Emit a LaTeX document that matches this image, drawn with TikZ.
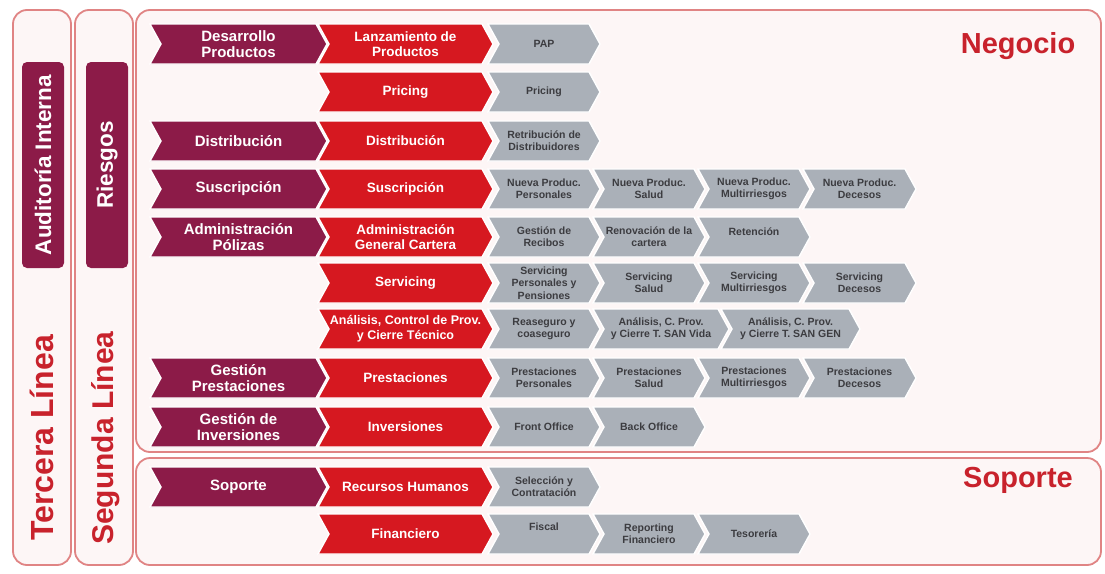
\documentclass[tikz,border=0pt]{standalone}
\usepackage{fontspec}
\setmainfont{Liberation Sans}
\definecolor{mymaroon}{RGB}{140,27,72}
\definecolor{myred}{RGB}{214,24,32}
\definecolor{mygray}{RGB}{170,176,184}
\definecolor{txtgray}{RGB}{60,60,64}
\definecolor{panelline}{RGB}{224,132,132}
\definecolor{panelfill}{RGB}{253,246,246}
\definecolor{titlered}{RGB}{200,34,44}
\tikzset{
  chev/.style={draw=white, line width=1.4pt, line join=miter},
  mar/.style={chev, fill=mymaroon},
  rd/.style={chev, fill=myred},
  gr/.style={chev, fill=mygray},
  martext/.style={text=white, font=\fontsize{15}{16.5}\selectfont\bfseries, align=center, inner sep=0pt},
  rdtext/.style={text=white, font=\fontsize{13.5}{15.5}\selectfont\bfseries, align=center, inner sep=0pt},
  rdsmall/.style={text=white, font=\fontsize{12.5}{15}\selectfont\bfseries, align=center, inner sep=0pt},
  grtext/.style={text=txtgray, font=\fontsize{10.5}{12.3}\selectfont\bfseries, align=center, inner sep=0pt},
  panel/.style={draw=panelline, line width=1.8pt, fill=panelfill, rounded corners=14pt},
  colbox/.style={fill=mymaroon, rounded corners=5pt, text=white, font=\fontsize{22.5}{24}\selectfont\bfseries, minimum width=206pt, minimum height=42pt, inner sep=0pt, rotate=90},
  coltext/.style={text=titlered, font=\fontsize{30}{32}\selectfont\bfseries, inner sep=0pt, rotate=90},
  sectitle/.style={text=titlered, font=\fontsize{29}{30}\selectfont\bfseries, inner sep=0pt}
}
% name, x1, x2, yc, shape style, text style, text
\newcommand\chevbox[7]{%
  \path[#5] (#2,#4-20) -- (#3-11,#4-20) -- (#3,#4) -- (#3-11,#4+20) -- (#2,#4+20) -- (#2+11,#4) -- cycle;
  \node[#6] (#1) at ({(#2+#3)/2}, #4) {#7};
}
\begin{document}
\begin{tikzpicture}[x=1pt, y=-1pt]
\useasboundingbox (0,0) rectangle (1105,573);
\fill[white] (0,0) rectangle (1105,573);
% panels
\draw[panel] (13,10) rectangle (71,565);
\draw[panel] (75,10) rectangle (133,565);
\draw[panel] (136,10) rectangle (1101,452);
\draw[panel] (136,458) rectangle (1101,565);
% column labels
\node[colbox] (auditoria) at (43,165) {Auditoría Interna};
\node[colbox] (riesgos) at (107,165) {Riesgos};
\node[coltext, font=\fontsize{32}{34}\selectfont\bfseries] (tercera) at (42,438) {Tercera Línea};
\node[coltext] (segunda) at (106,438) {Segunda Línea};
\node[sectitle] (negocio) at (1018,46) {Negocio};
\node[sectitle] (soporteT) at (1018,480) {Soporte};
% Row 1
\chevbox{m1}{150}{327}{44}{mar}{martext}{Desarrollo\\Productos}
\chevbox{r1}{318}{493}{44}{rd}{rdtext}{Lanzamiento de\\Productos}
\chevbox{g1a}{488}{600}{44}{gr}{grtext}{PAP}
% Row 2
\chevbox{r2}{318}{493}{92}{rd}{rdtext}{Pricing}
\chevbox{g2a}{488}{600}{92}{gr}{grtext}{Pricing}
% Row 3
\chevbox{m3}{150}{327}{141}{mar}{martext}{Distribución}
\chevbox{r3}{318}{493}{141}{rd}{rdtext}{Distribución}
\chevbox{g3a}{488}{600}{141}{gr}{grtext}{Retribución de\\Distribuidores}
% Row 4
\chevbox{m4}{150}{327}{189}{mar}{martext}{Suscripción}
\chevbox{r4}{318}{493}{189}{rd}{rdtext}{Suscripción}
\chevbox{g4a}{488}{600}{189}{gr}{grtext}{Nueva Produc.\\Personales}
\chevbox{g4b}{593}{705}{189}{gr}{grtext}{Nueva Produc.\\Salud}
\chevbox{g4c}{698}{810}{189}{gr}{grtext}{Nueva Produc.\\Multirriesgos}
\chevbox{g4d}{803}{916}{189}{gr}{grtext}{Nueva Produc.\\Decesos}
% Row 5
\chevbox{m5}{150}{327}{237}{mar}{martext}{Administración\\Pólizas}
\chevbox{r5}{318}{493}{237}{rd}{rdtext}{Administración\\General Cartera}
\chevbox{g5a}{488}{600}{237}{gr}{grtext}{Gestión de\\Recibos}
\chevbox{g5b}{593}{705}{237}{gr}{grtext}{Renovación de la\\cartera}
\path[gr] (698,217) -- (799,217) -- (810,237) -- (799,257) -- (698,257) -- (709,237) -- cycle;
\node[grtext] (g5c) at (754,232) {Retención};
% Row 6
\chevbox{r6}{318}{493}{283}{rd}{rdtext}{Servicing}
\chevbox{g6a}{488}{600}{283}{gr}{grtext}{Servicing\\Personales y\\Pensiones}
\chevbox{g6b}{593}{705}{283}{gr}{grtext}{Servicing\\Salud}
\chevbox{g6c}{698}{810}{283}{gr}{grtext}{Servicing\\Multirriesgos}
\chevbox{g6d}{803}{916}{283}{gr}{grtext}{Servicing\\Decesos}
% Row 7
\chevbox{r7}{318}{493}{329}{rd}{rdsmall}{Análisis, Control de Prov.\\y Cierre Técnico}
\chevbox{g7a}{488}{600}{329}{gr}{grtext}{Reaseguro y\\coaseguro}
\chevbox{g7b}{593}{729}{329}{gr}{grtext}{Análisis, C. Prov.\\y Cierre T. SAN Vida}
\chevbox{g7c}{721}{860}{329}{gr}{grtext}{Análisis, C. Prov.\\y Cierre T. SAN GEN}
% Row 8
\chevbox{m8}{150}{327}{378}{mar}{martext}{Gestión\\Prestaciones}
\chevbox{r8}{318}{493}{378}{rd}{rdtext}{Prestaciones}
\chevbox{g8a}{488}{600}{378}{gr}{grtext}{Prestaciones\\Personales}
\chevbox{g8b}{593}{705}{378}{gr}{grtext}{Prestaciones\\Salud}
\chevbox{g8c}{698}{810}{378}{gr}{grtext}{Prestaciones\\Multirriesgos}
\chevbox{g8d}{803}{916}{378}{gr}{grtext}{Prestaciones\\Decesos}
% Row 9
\chevbox{m9}{150}{327}{427}{mar}{martext}{Gestión de\\Inversiones}
\chevbox{r9}{318}{493}{427}{rd}{rdtext}{Inversiones}
\chevbox{g9a}{488}{600}{427}{gr}{grtext}{Front Office}
\chevbox{g9b}{593}{705}{427}{gr}{grtext}{Back Office}
% Row 10
\chevbox{m10}{150}{327}{487}{mar}{martext}{Soporte}
\chevbox{r10}{318}{493}{487}{rd}{rdtext}{Recursos Humanos}
\chevbox{g10a}{488}{600}{487}{gr}{grtext}{Selección y\\Contratación}
% Row 11
\chevbox{r11}{318}{493}{534}{rd}{rdtext}{Financiero}
\path[gr] (488,514) -- (589,514) -- (600,534) -- (589,554) -- (488,554) -- (499,534) -- cycle;
\node[grtext] (g11a) at (544,527) {Fiscal};
\chevbox{g11b}{593}{705}{534}{gr}{grtext}{Reporting\\Financiero}
\chevbox{g11c}{698}{810}{534}{gr}{grtext}{Tesorería}
\end{tikzpicture}
\end{document}
